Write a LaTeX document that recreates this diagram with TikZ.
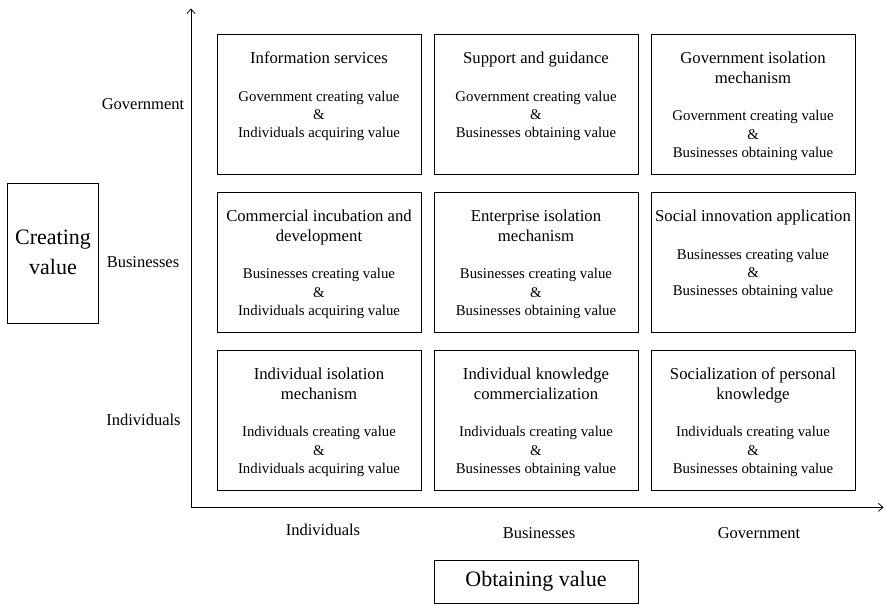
\documentclass[tikz,border=0pt]{standalone}
\usepackage{fontspec}
\usetikzlibrary{arrows.meta}
\setmainfont{Liberation Serif}
\begin{document}
\begin{tikzpicture}[x=1pt,y=-1pt,
  cell/.style={draw, line width=0.9pt, minimum width=204pt, minimum height=140pt, inner sep=0pt},
  ctitle/.style={align=center, inner sep=0pt, font=\fontsize{16.7}{20}\selectfont},
  cbody/.style={align=center, inner sep=0pt, font=\fontsize{14.8}{18.3}\selectfont},
  axlab/.style={inner sep=0pt, font=\fontsize{16.5}{20}\selectfont},
  bigbox/.style={draw, line width=0.9pt, inner sep=0pt},
  axis/.style={line width=0.75pt, -{Straight Barb[length=4.5pt,width=8pt,line width=0.75pt]}}]
\useasboundingbox (0,0) rectangle (884,604);
% #1 name, #2 centre, #3 title, #4 title last-baseline offset, #5 #6 body lines, #7 body last-baseline offset
\newcommand{\mkcell}[7]{%
  \node[cell] (#1) at #2 {};
  \node[ctitle, anchor=base] (#1t) at ([yshift=-#4pt]#1.north) {#3};
  \node[cbody, anchor=base] (#1b) at ([yshift=-#7pt]#1.north) {#5\\\&\\#6};
}
% axes
\coordinate (o) at (191,507.3);
\coordinate (ytop) at (191,8.5);
\coordinate (xend) at (883.5,507.3);
\draw[axis] (o) -- (ytop);
\draw[axis] (o) -- (xend);
% cells
\mkcell{c11}{(319,104.7)}{Information services}{29.3}{Government creating value}{Individuals acquiring value}{103.6}
\mkcell{c12}{(536,104.7)}{Support and guidance}{29.3}{Government creating value}{Businesses obtaining value}{103.6}
\mkcell{c13}{(753,104.7)}{Government isolation\\mechanism}{49.3}{Government creating value}{Businesses obtaining value}{123.2}
\mkcell{c21}{(319,262.7)}{Commercial incubation and\\development}{49.3}{Businesses creating value}{Individuals acquiring value}{123.2}
\mkcell{c22}{(536,262.7)}{Enterprise isolation\\mechanism}{49.3}{Businesses creating value}{Businesses obtaining value}{123.2}
\mkcell{c23}{(753,262.7)}{Social innovation application}{29.3}{Businesses creating value}{Businesses obtaining value}{103.6}
\mkcell{c31}{(319,420.7)}{Individual isolation\\mechanism}{49.3}{Individuals creating value}{Individuals acquiring value}{123.2}
\mkcell{c32}{(536,420.7)}{Individual knowledge\\commercialization}{49.3}{Individuals creating value}{Businesses obtaining value}{123.2}
\mkcell{c33}{(753,420.7)}{Socialization of personal\\knowledge}{49.3}{Individuals creating value}{Businesses obtaining value}{123.2}
% axis labels
\node[axlab, anchor=base] (yg) at (143,110) {Government};
\node[axlab, anchor=base] (yb) at (143,268) {Businesses};
\node[axlab, anchor=base] (yi) at (143.5,425.7) {Individuals};
\node[axlab, anchor=base] (xi) at (323,535.3) {Individuals};
\node[axlab, anchor=base] (xb) at (539,538.7) {Businesses};
\node[axlab, anchor=base] (xg) at (759,538.7) {Government};
% big boxes
\node[bigbox, minimum width=91.4pt, minimum height=140pt] (cv) at (53,253.3) {};
\node[align=center, inner sep=0pt, anchor=base, font=\fontsize{22}{30}\selectfont] (cvt) at ([yshift=-91.7pt]cv.north) {Creating\\value};
\node[bigbox, minimum width=204pt, minimum height=43.3pt] (ov) at (536,581.7) {};
\node[inner sep=0pt, anchor=base, font=\fontsize{22}{26}\selectfont] (ovt) at (536,586.7) {Obtaining value};
\end{tikzpicture}
\end{document}
